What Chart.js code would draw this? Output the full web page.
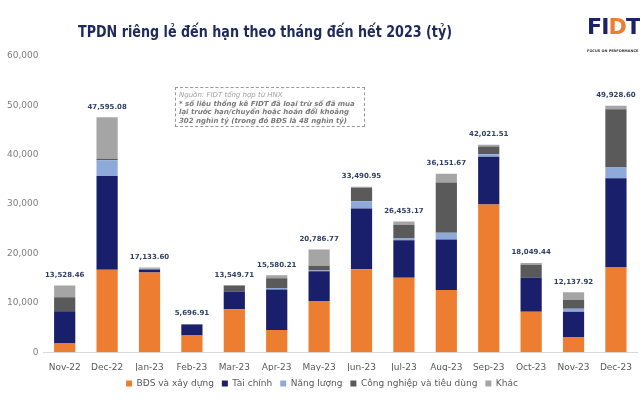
<!DOCTYPE html>
<html>
<head>
<meta charset="utf-8">
<script src="https://cdn.jsdelivr.net/npm/chart.js@4"></script>
<style>
  html, body { margin: 0; padding: 0; background: #fff; overflow: hidden; }
  #wrap { position: relative; width: 642px; height: 400px; }
  #title { position: absolute; left: 78px; top: 22px; font: bold 16px "DejaVu Sans", sans-serif; color: #1f2a5c; white-space: nowrap; transform-origin: 0 0; }
  #logo { position: absolute; left: 587px; top: 16px; width: 56px; white-space: nowrap; }
  #logo .big { display: inline-block; font: 900 25px "DejaVu Sans", sans-serif; color: #1b2266; letter-spacing: -1px; transform-origin: 0 0; line-height: 25px; }
  #logo .o { color: #ed7d31; }
  #logo small { display: block; font: bold 3.5px "DejaVu Sans", sans-serif; color: #333; margin-top: 8px; white-space: nowrap; }
  #note { position: absolute; left: 175px; top: 87px; width: 190px; height: 40px; border: 1px dashed #9a9a9a; padding: 3px 0 0 3px; box-sizing: border-box;
          font: italic bold 7px "DejaVu Sans", sans-serif; color: #7a7a7a; line-height: 8.5px; white-space: nowrap; }
  #note .src { font-weight: normal; color: #a0a0a0; }
</style>
</head>
<body>
<div id="wrap">
  <canvas id="myChart" width="642" height="400"></canvas>
  <div id="title">TPDN riêng lẻ đến hạn theo tháng đến hết 2023 (tỷ)</div>
  <div id="logo"><span class="big" id="logoText">FI<span class="o">D</span>T</span><small>FOCUS ON PERFORMANCE</small></div>
  <div id="note"><span class="src">Nguồn: FIDT tổng hợp từ HNX</span><br>* số liệu thống kê FIDT đã loại trừ số đã mua<br>lại trước hạn/chuyển hoặc hoán đổi khoảng<br>302 nghìn tỷ (trong đó BĐS là 48 nghìn tỷ)</div>
</div>
<script>
var months = ['Nov-22','Dec-22','Jan-23','Feb-23','Mar-23','Apr-23','May-23','Jun-23','Jul-23','Aug-23','Sep-23','Oct-23','Nov-23','Dec-23']
var bds        = [1750, 16700, 16150, 3400, 8700, 4500, 10387, 16800, 15100, 12600, 29900, 8200, 3100, 17150]
var taiChinh   = [6550, 19000,   600, 2200, 3600, 8200,  6000, 12300,  7600, 10250,  9700, 6950, 5100, 18100]
var nangLuong  = [   0,  3200,   150,    0,    0,  300,   150,  1500,   350,  1350,   500,    0,  600,  2150]
var congNghiep = [2810,   300,     0,    0, 1200, 2000,   950,  2700,  2750, 10200,  1550, 2550, 1750, 11800]
var khac       = [2418,  8395,   234,   97,   50,  580,  3300,   191,   653,  1752,   372,  349, 1588,   729]
var tongCong   = [13528.46, 47595.08, 17133.60, 5696.91, 13549.71, 15580.21, 20786.77, 33490.95, 26453.17, 36151.67, 42021.51, 18049.44, 12137.92, 49928.60]
var yTicks     = [0, 10000, 20000, 30000, 40000, 50000, 60000]

// fit title and logo widths to the reference
var t = document.getElementById('title')
t.style.transform = 'scaleX(' + (374 / t.offsetWidth) + ')'
var lg = document.getElementById('logoText')
lg.style.transform = 'scale(' + (53 / lg.offsetWidth) + ', 0.85)'

const totalLabels = {
  id: 'totalLabels',
  afterDatasetsDraw(chart) {
    const ctx = chart.ctx
    const y = chart.scales.y
    const x = chart.scales.x
    ctx.save()
    ctx.font = 'bold 7px "DejaVu Sans", sans-serif'
    ctx.fillStyle = '#2f3f66'
    ctx.textAlign = 'center'
    ctx.textBaseline = 'bottom'
    tongCong.forEach((v, i) => {
      let s = v.toLocaleString('en-US', {minimumFractionDigits: 2, maximumFractionDigits: 2})
      ctx.fillText(s, x.getPixelForValue(i), y.getPixelForValue(v) - 7)
    })
    ctx.restore()
  }
}

function ds(label, data, color) {
  return { label: label, data: data, backgroundColor: color, borderWidth: 0,
           barPercentage: 0.5, categoryPercentage: 1.0 }
}

const chart1 = new Chart(document.getElementById('myChart'), {
  type: 'bar',
  data: {
    labels: months,
    datasets: [
      ds('BĐS và xây dựng', bds, '#ed7d31'),
      ds('Tài chính', taiChinh, '#1a1f6b'),
      ds('Năng lượng', nangLuong, '#8eaadb'),
      ds('Công nghiệp và tiêu dùng', congNghiep, '#5a5a5a'),
      ds('Khác', khac, '#a5a5a5')
    ]
  },
  options: {
    responsive: false,
    animation: false,
    layout: { padding: { top: 56, left: 2, right: 0, bottom: 2 } },
    plugins: {
      legend: {
        position: 'bottom',
        labels: { boxWidth: 6, boxHeight: 6, padding: 8, color: '#595959',
                  font: { size: 9, family: '"DejaVu Sans", sans-serif' } }
      },
      tooltip: { enabled: false }
    },
    scales: {
      x: {
        stacked: true,
        grid: { display: false, drawTicks: false },
        border: { display: true, color: '#d9d9d9' },
        ticks: { color: '#595959', padding: 10, font: { size: 9, family: '"DejaVu Sans", sans-serif' } },
        afterFit: (axis) => { axis.height -= 12 }
      },
      y: {
        stacked: true,
        min: 0, max: 60000,
        grid: { display: false, drawTicks: false },
        border: { display: false },
        afterBuildTicks: (axis) => { axis.ticks = yTicks.map(v => ({ value: v })) },
        ticks: { color: '#7f7f7f', padding: 5, font: { size: 9, family: '"DejaVu Sans", sans-serif' },
                 callback: (v) => v.toLocaleString('en-US') }
      }
    }
  },
  plugins: [totalLabels]
});
</script>
</body>
</html>
